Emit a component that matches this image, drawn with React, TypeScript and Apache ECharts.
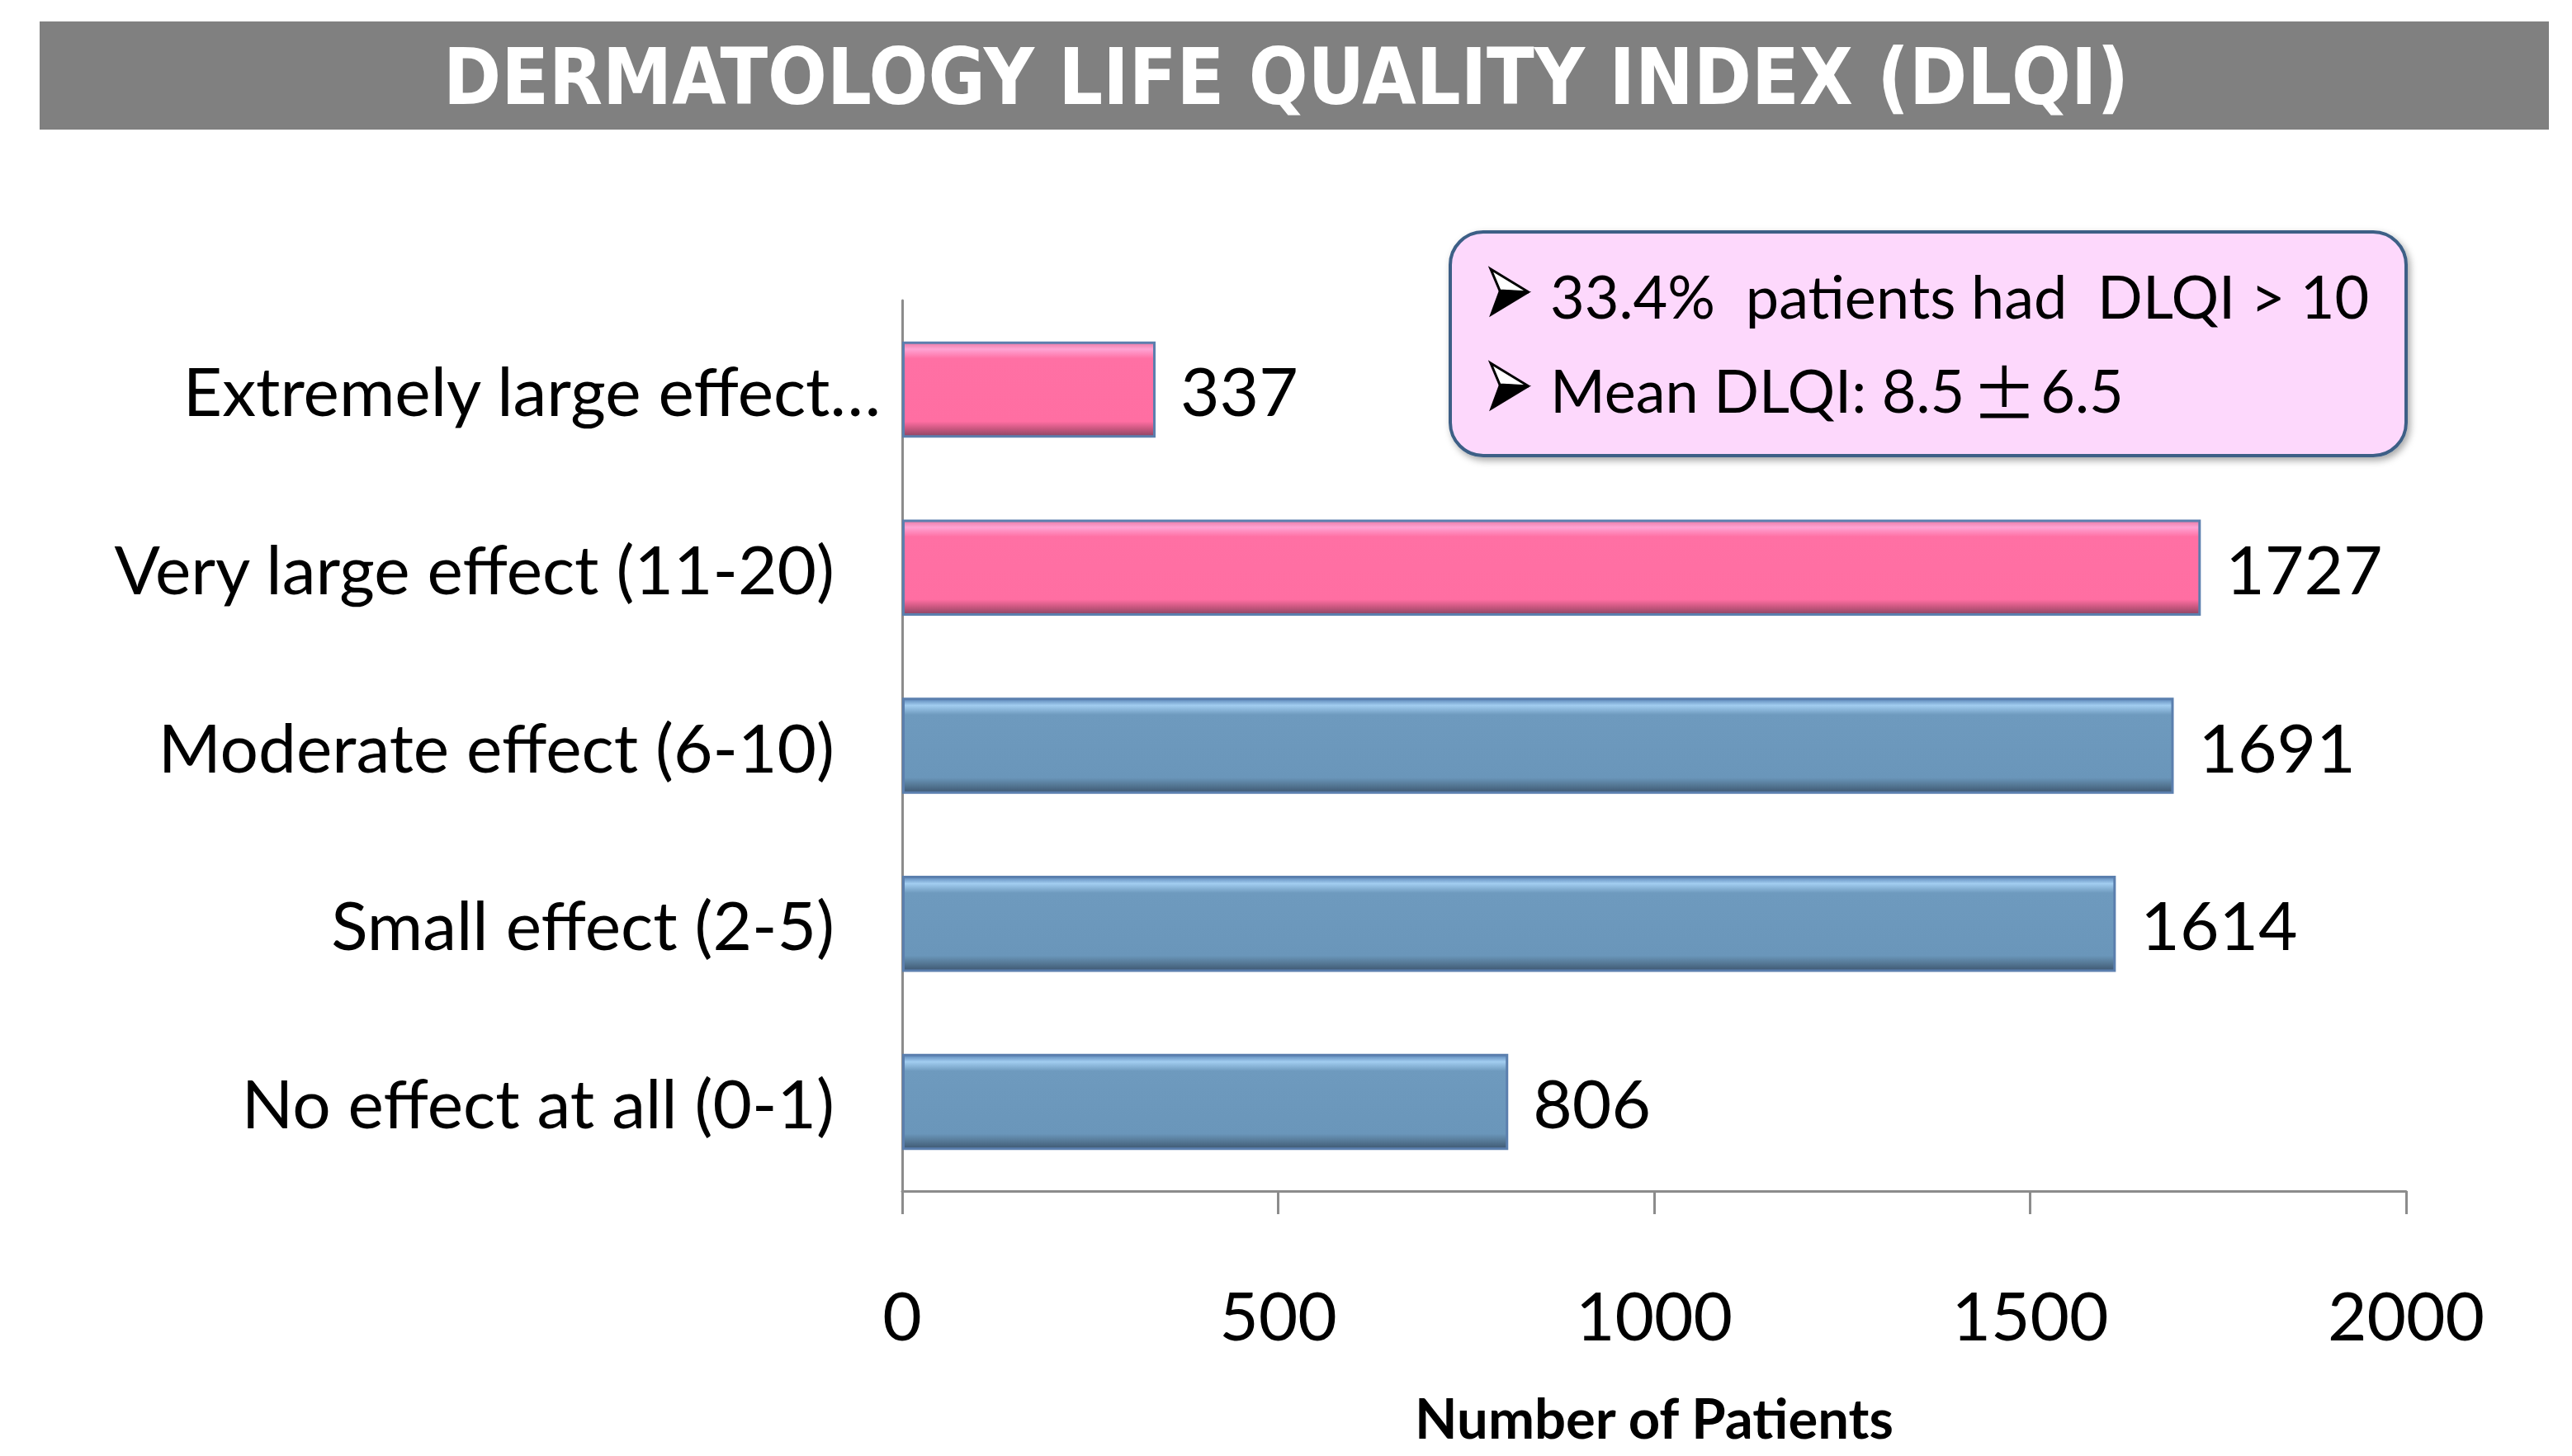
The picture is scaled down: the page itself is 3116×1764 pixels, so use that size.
import React, { useEffect, useRef } from "react";
import * as echarts from "echarts";

const titleText = "DERMATOLOGY LIFE QUALITY INDEX (DLQI)";
const categories = [
  "Extremely large effect…",
  "Very large effect (11-20)",
  "Moderate effect (6-10)",
  "Small effect (2-5)",
  "No effect at all (0-1)",
];
const patients = [337, 1727, 1691, 1614, 806];
const dlqiAbove10 = [true, true, false, false, false];
const xTicks = [0, 500, 1000, 1500, 2000];
const xAxisName = "Number of Patients";
const noteLine1 = "33.4%  patients had  DLQI > 10";
const noteLine2 = ["Mean DLQI: 8.5", "\u00B1", "6.5"];

const pinkFill = new echarts.graphic.LinearGradient(0, 0, 0, 1, [
  { offset: 0, color: "#E77AA6" },
  { offset: 0.07, color: "#FFA3D3" },
  { offset: 0.17, color: "#FF70A4" },
  { offset: 0.84, color: "#FF6EA2" },
  { offset: 0.92, color: "#C9577F" },
  { offset: 1, color: "#8C4564" },
]);
const blueFill = new echarts.graphic.LinearGradient(0, 0, 0, 1, [
  { offset: 0, color: "#5B86B8" },
  { offset: 0.07, color: "#A2CDF0" },
  { offset: 0.17, color: "#6E9ABE" },
  { offset: 0.84, color: "#6A96BA" },
  { offset: 0.92, color: "#557895" },
  { offset: 1, color: "#3E5771" },
]);

function bulletArrow(cx: number, cy: number) {
  // 3D arrowhead bullet (decoration), centred vertically on cy
  return [
    {
      type: "polygon",
      z: 11,
      shape: {
        points: [
          [cx, cy - 28],
          [cx + 46, cy],
          [cx + 11, cy - 2],
        ],
      },
      style: { fill: "#ffffff", stroke: "#000", lineWidth: 3, lineJoin: "miter" },
    },
    {
      type: "polygon",
      z: 11,
      shape: {
        points: [
          [cx + 11, cy - 2],
          [cx + 46, cy],
          [cx, cy + 28],
        ],
      },
      style: { fill: "#000", stroke: "#000", lineWidth: 2 },
    },
  ];
}

export default function App() {
  const ref = useRef<HTMLDivElement>(null);
  useEffect(() => {
    if (!ref.current) return;
    const chart = echarts.init(ref.current, null, { renderer: "svg" });
    const font = "Lato";
    chart.setOption({
      animation: false,
      backgroundColor: "#ffffff",
      title: {
        text: titleText,
        left: "center",
        top: 46,
        padding: 0,
        textStyle: {
          color: "#ffffff",
          fontFamily: "'DejaVu Sans Condensed', 'DejaVu Sans'",
          fontWeight: "bold",
          fontSize: 94,
          lineHeight: 94,
        },
      },
      graphic: [
        {
          type: "rect",
          z: -1,
          shape: { x: 48, y: 26, width: 3040, height: 131 },
          style: { fill: "#808080" },
        },
        {
          type: "rect",
          z: 10,
          shape: { x: 1757, y: 281, width: 1158, height: 271, r: 40 },
          style: {
            fill: "#FDD8FC",
            stroke: "#3C5E86",
            lineWidth: 4,
            shadowBlur: 8,
            shadowColor: "rgba(0,0,0,0.35)",
            shadowOffsetX: 3,
            shadowOffsetY: 4,
          },
        },
        ...bulletArrow(1806, 354),
        ...bulletArrow(1806, 468),
        {
          type: "text",
          z: 11,
          x: 1878,
          y: 358,
          style: {
            text: noteLine1,
            fontFamily: font,
            fontSize: 72,
            fill: "#000",
            verticalAlign: "middle",
          },
        },
        {
          type: "text",
          z: 11,
          x: 1878,
          y: 472,
          style: {
            text: `{t|${noteLine2[0]}}{pm|${noteLine2[1]}}{t|${noteLine2[2]}}`,
            fontFamily: font,
            fontSize: 72,
            fill: "#000",
            verticalAlign: "middle",
            rich: {
              t: { fontFamily: font, fontSize: 72, fill: "#000" },
              pm: {
                fontFamily: "'Noto Sans CJK JP'",
                fontSize: 80,
                fill: "#000",
                padding: [0, 4, 0, 8],
              },
            },
          },
        },
      ],
      grid: { left: 1093, top: 364, width: 1822, height: 1079, containLabel: false },
      xAxis: {
        type: "value",
        min: xTicks[0],
        max: xTicks[xTicks.length - 1],
        interval: xTicks[1] - xTicks[0],
        splitLine: { show: false },
        axisLine: { show: true, lineStyle: { color: "#8C8C8C", width: 3 } },
        axisTick: { show: true, length: 28, lineStyle: { color: "#8C8C8C", width: 3 } },
        axisLabel: {
          fontFamily: font,
          fontSize: 82,
          color: "#000",
          margin: 108,
          formatter: (v: number) => String(v),
        },
        name: xAxisName,
        nameLocation: "middle",
        nameGap: 240,
        nameTextStyle: {
          fontFamily: font,
          fontWeight: "bold",
          fontSize: 67,
          color: "#000",
        },
      },
      yAxis: {
        type: "category",
        inverse: true,
        data: categories,
        axisLine: { show: true, lineStyle: { color: "#8C8C8C", width: 3 } },
        axisTick: { show: false },
        axisLabel: {
          margin: 26,
          fontFamily: font,
          fontSize: 82,
          color: "#000",
          formatter: (v: string, i: number) => (i === 0 ? `{e|${v}}` : `{n|${v}}`),
          rich: {
            e: { fontFamily: font, fontSize: 82, color: "#000" },
            n: { fontFamily: font, fontSize: 82, color: "#000", padding: [0, 56, 0, 0] },
          },
        },
      },
      series: [
        {
          type: "bar",
          barWidth: "54%",
          data: patients.map((v, i) => ({
            value: v,
            itemStyle: {
              color: dlqiAbove10[i] ? pinkFill : blueFill,
              borderColor: "#5B7FAE",
              borderWidth: 3,
            },
          })),
          label: {
            show: true,
            position: "right",
            distance: 30,
            fontFamily: font,
            fontSize: 82,
            color: "#000",
          },
        },
      ],
    });
    return () => chart.dispose();
  }, []);
  return (
    <div
      ref={ref}
      style={{ position: "fixed", left: 0, top: 0, width: 3116, height: 1764 }}
    />
  );
}
